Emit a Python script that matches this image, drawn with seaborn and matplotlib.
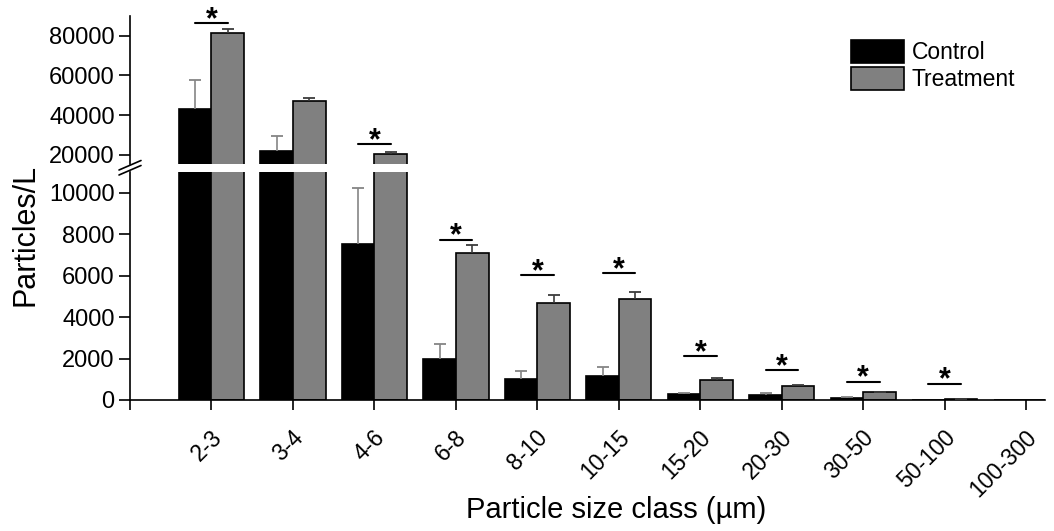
import numpy as np
import pandas as pd
import matplotlib
matplotlib.use("Agg")
import matplotlib.pyplot as plt
import matplotlib.transforms as mtransforms
from matplotlib.lines import Line2D
from matplotlib.patches import Patch
import seaborn as sns

# ---------------- data ----------------
categories = ["2-3", "3-4", "4-6", "6-8", "8-10", "10-15", "15-20",
              "20-30", "30-50", "50-100", "100-300"]
control = [43300, 22200, 7550, 1990, 1000, 1170, 290, 240, 95, 8, 3]
control_sd = [14400, 7400, 2690, 710, 400, 420, 50, 90, 35, 0, 0]
treatment = [81200, 47300, 20700, 7100, 4680, 4860, 970, 690, 370, 35, 10]
treatment_sd = [2200, 1400, 700, 380, 390, 370, 70, 30, 15, 5, 0]
sig_categories = ["2-3", "4-6", "6-8", "8-10", "10-15", "15-20",
                  "20-30", "30-50", "50-100"]
sig_heights = [86200, 25400, 7740, 6030, 6110, 2100, 1435, 875, 780]
groups = ["Control", "Treatment"]
colors = ["#000000", "#808080"]
upper_ticks = [20000, 40000, 60000, 80000]
lower_ticks = [0, 2000, 4000, 6000, 8000, 10000]

# ---------------- style ----------------
sns.set_theme(style="ticks")
plt.rcParams["font.family"] = ["Liberation Sans", "DejaVu Sans"]
plt.rcParams.update({
    "axes.edgecolor": "black", "xtick.color": "black", "ytick.color": "black",
    "text.color": "black", "axes.labelcolor": "black",
    "axes.linewidth": 1.2,
})

n = len(categories)
df = pd.DataFrame({
    "size": categories * 2,
    "value": control + treatment,
    "group": [groups[0]] * n + [groups[1]] * n,
})

W, H = 1054, 531
fig = plt.figure(figsize=(W / 100, H / 100), dpi=100)


def fx(px):
    return px / W


def fy(py):
    return 1 - py / H


left, right = 130, 1045
ax_lo = fig.add_axes([fx(left), fy(400), fx(right - left), fy(172) - fy(400)])
ax_hi = fig.add_axes([fx(left), fy(164.3), fx(right - left), fy(16) - fy(164.3)])

x = np.arange(n)
for ax in (ax_lo, ax_hi):
    sns.barplot(data=df, x="size", y="value", hue="group", order=categories,
                hue_order=groups, palette=colors, edgecolor="black",
                linewidth=1.2, errorbar=None, width=0.8, legend=False,
                saturation=1, ax=ax)
    for off, vals, sds, ec in ((-0.2, control, control_sd, "#858585"),
                               (0.2, treatment, treatment_sd, "#3c3c3c")):
        v = np.array(vals, dtype=float)
        s = np.array(sds, dtype=float)
        m = s > 0
        ax.vlines(x[m] + off, v[m], v[m] + s[m], color=ec, lw=1.2, zorder=3)
        ax.plot(x[m] + off, v[m] + s[m], ls="none", marker="_", ms=8,
                mew=1.3, color=ec, zorder=3)
    ax.set_xlim(-1, 10.23)
    ax.set_xlabel("")
    ax.set_ylabel("")

ax_lo.set_ylim(0, 11000)
ax_hi.set_ylim(15300, 89900)

# spines
for sp in ("top", "right"):
    ax_lo.spines[sp].set_visible(False)
for sp in ("top", "right", "bottom"):
    ax_hi.spines[sp].set_visible(False)

ax_hi.set_xticks([])
ax_hi.set_yticks(upper_ticks)
ax_hi.set_yticklabels([str(t) for t in upper_ticks])
ax_lo.set_yticks(lower_ticks)
ax_lo.set_yticklabels([str(t) for t in lower_ticks])
for ax in (ax_lo, ax_hi):
    ax.tick_params(axis="y", direction="out", length=8, width=1.2,
                   labelsize=17, pad=3, left=True)

ax_lo.set_xticks(list(range(-1, n)))
ax_lo.set_xticklabels([""] + categories, rotation=45, ha="right", va="top")
ax_lo.tick_params(axis="x", direction="out", length=7.5, width=1.2,
                  labelsize=16.5, pad=11, bottom=True)
shift = mtransforms.ScaledTranslation(0.15, 0, fig.dpi_scale_trans)
for lab in ax_lo.get_xticklabels():
    lab.set_transform(lab.get_transform() + shift)

# significance markers
for cat, h in zip(sig_categories, sig_heights):
    i = categories.index(cat)
    ax = ax_hi if h > 11000 else ax_lo
    ax.plot([i - 0.2, i + 0.2], [h, h], color="black", lw=1.5,
            clip_on=False, zorder=4)
    ax.annotate("*", xy=(i, h), xytext=(0, -3.5), textcoords="offset points",
                ha="center", va="baseline", fontsize=22, fontweight="bold",
                annotation_clip=False)

# axis break marks
for y0 in (170, 175):
    fig.add_artist(Line2D([fx(119), fx(141)], [fy(y0), fy(y0 - 9.5)],
                          transform=fig.transFigure, color="black", lw=1.2))

# labels
fig.text(fx(25), fy(235), "Particles/L", rotation=90, ha="center",
         va="center", fontsize=22)
fig.text(fx(616), fy(518), "Particle size class (\u00b5m)", ha="center",
         va="baseline", fontsize=21)

# legend
handles = [Patch(facecolor=c, edgecolor="black", linewidth=1.2, label=g)
           for g, c in zip(groups, colors)]
fig.legend(handles=handles, loc="upper left",
           bbox_to_anchor=(fx(851), fy(40)), frameon=False, borderaxespad=0,
           borderpad=0, handlelength=2.3, handleheight=1.15,
           handletextpad=0.35, labelspacing=0.12, fontsize=16.5)

fig.savefig("out.png", dpi=100)
